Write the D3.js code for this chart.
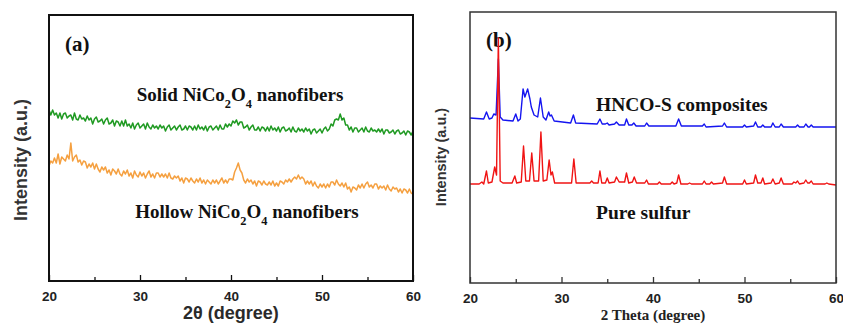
<!DOCTYPE html>
<html>
<head>
<meta charset="utf-8">
<script src="https://cdn.jsdelivr.net/npm/d3@7/dist/d3.min.js"></script>
<style>
  html, body { margin: 0; padding: 0; background: #fff; }
  svg { display: block; }
</style>
</head>
<body>
<div id="chart"></div>
<script>
// ==========================================
// DATA
// ==========================================

// panel (a): scans sampled every 0.2 degree from 20 to 60
const scanStart = 20;
const scanStep = 0.2;
const solidNiCo2O4 = [
  171, 166, 171, 166, 168, 163, 168, 162, 167, 168, 163,
  165, 166, 161, 168, 162, 161, 166, 162, 163, 160,
  165, 161, 163, 157, 162, 164, 159, 160, 162, 157,
  161, 163, 157, 158, 161, 155, 160, 159, 155, 160,
  155, 161, 155, 157, 153, 158, 152, 156, 158, 153,
  155, 157, 152, 158, 154, 152, 156, 153, 155, 152,
  156, 153, 155, 150, 154, 156, 151, 153, 155, 151,
  154, 156, 151, 152, 155, 151, 155, 154, 151, 155,
  151, 156, 152, 154, 151, 155, 150, 154, 155, 151,
  153, 155, 151, 156, 152, 152, 157, 154, 157, 155,
  160, 158, 161, 156, 159, 159, 153, 154, 156, 151,
  154, 156, 151, 151, 154, 150, 154, 153, 150, 154,
  150, 155, 151, 153, 150, 154, 149, 153, 154, 150,
  151, 153, 149, 154, 150, 149, 153, 150, 152, 149,
  153, 150, 152, 147, 151, 152, 148, 150, 152, 148,
  152, 154, 150, 152, 157, 155, 161, 162, 161, 167,
  161, 163, 156, 156, 151, 154, 149, 153, 153, 149,
  151, 153, 149, 154, 150, 149, 153, 150, 151, 149,
  152, 149, 152, 147, 151, 151, 148, 149, 151, 147,
  150, 151, 147, 148, 150, 146, 150, 149, 146, 150
];
const hollowNiCo2O4 = [
  115, 120, 118, 123, 118, 127, 117, 124, 122, 120, 126,
  122, 138, 120, 124, 126, 119, 121, 116, 120, 119,
  113, 117, 114, 118, 112, 117, 112, 109, 114, 111,
  114, 108, 111, 106, 112, 110, 107, 112, 107, 105,
  110, 107, 111, 105, 108, 103, 110, 106, 104, 109,
  105, 108, 103, 107, 110, 104, 107, 103, 108, 108,
  104, 107, 104, 107, 103, 108, 103, 102, 105, 103,
  105, 100, 103, 98, 103, 102, 99, 103, 100, 98,
  102, 99, 103, 98, 101, 97, 101, 99, 97, 101,
  98, 101, 97, 100, 103, 98, 101, 98, 102, 102,
  101, 109, 113, 118, 111, 108, 101, 98, 102, 99,
  101, 97, 100, 95, 100, 99, 96, 100, 97, 96,
  99, 96, 100, 95, 98, 95, 100, 99, 97, 101,
  99, 102, 99, 102, 104, 102, 106, 102, 104, 102,
  97, 100, 97, 100, 95, 99, 95, 93, 97, 94,
  97, 93, 97, 94, 99, 99, 96, 101, 97, 95,
  98, 94, 98, 92, 94, 89, 94, 93, 91, 96,
  93, 97, 93, 97, 99, 94, 96, 93, 97, 97,
  92, 95, 93, 95, 91, 96, 92, 90, 94, 92,
  93, 89, 92, 88, 92, 91, 88, 92, 88, 87
];

// panel (b): [2theta, intensity] points
const hncoS = [
  [20, 165], [21.5, 164], [21.8, 171], [22.1, 164], [22.4, 165], [22.6, 169], [22.85, 168], [23.1, 224],
  [23.3, 166], [23.6, 163], [24.7, 162], [25.0, 169], [25.25, 162], [25.5, 164], [25.8, 194], [26.0, 186],
  [26.3, 194], [26.55, 184], [26.7, 176], [27.0, 168], [27.4, 166], [27.7, 185], [28.0, 166], [28.3, 163],
  [28.6, 171], [28.75, 167], [28.9, 168], [29.2, 162], [31.0, 160], [31.3, 168], [31.55, 160], [33.9, 159],
  [34.2, 164], [34.45, 159], [34.8, 159], [35.0, 160], [35.2, 158], [35.8, 159], [36.0, 161], [36.3, 158],
  [36.9, 158], [37.1, 164], [37.35, 158], [37.7, 158], [37.9, 160], [38.15, 157], [39.1, 157], [39.3, 160],
  [39.55, 157], [42.5, 157], [42.8, 164], [43.1, 157], [45.4, 157], [45.6, 159], [45.8, 156], [47.6, 157],
  [47.8, 160], [48.05, 156], [49.8, 156], [50.0, 158], [50.2, 156], [51.0, 157], [51.2, 161], [51.45, 156],
  [51.8, 156], [52.0, 158], [52.2, 156], [52.9, 156], [53.1, 160], [53.35, 156], [53.8, 156], [54.0, 159],
  [54.25, 156], [55.6, 156], [55.8, 158], [56.0, 156], [56.5, 156], [56.7, 159], [56.95, 156], [57.1, 156],
  [57.3, 158], [57.5, 156], [60, 156]
];
const pureSulfur = [
  [20, 99], [21.0, 99], [21.3, 101], [21.5, 99], [21.8, 112], [22.0, 100], [22.4, 101], [22.7, 116],
  [22.9, 108], [23.1, 245], [23.3, 102], [23.6, 100], [24.6, 100], [24.9, 107], [25.1, 100], [25.6, 101],
  [25.85, 137], [26.1, 102], [26.5, 102], [26.75, 130], [27.0, 102], [27.5, 102], [27.75, 151], [28.0, 102],
  [28.4, 103], [28.65, 123], [28.85, 108], [29.0, 111], [29.25, 100], [31.1, 100], [31.35, 124], [31.6, 100],
  [33.1, 100], [33.3, 102], [33.5, 100], [34.0, 100], [34.2, 112], [34.4, 100], [34.8, 100], [35.0, 105],
  [35.2, 100], [35.8, 101], [36.0, 106], [36.3, 101], [36.9, 101], [37.1, 110], [37.35, 100], [37.75, 101],
  [37.95, 106], [38.2, 100], [39.1, 100], [39.3, 103], [39.5, 99], [40.5, 99], [40.7, 101], [40.9, 99],
  [41.9, 99], [42.1, 101], [42.3, 99], [42.6, 100], [42.8, 108], [43.05, 99], [43.8, 99], [44.0, 100],
  [44.2, 99], [45.4, 99], [45.6, 102], [45.8, 99], [46.2, 99], [46.4, 101], [46.6, 99], [47.6, 100],
  [47.8, 106], [48.05, 99], [49.8, 99], [50.0, 103], [50.2, 99], [51.0, 100], [51.2, 108], [51.45, 100],
  [51.8, 100], [52.0, 105], [52.2, 99], [52.9, 100], [53.1, 104], [53.35, 99], [53.8, 100], [54.0, 105],
  [54.25, 99], [55.2, 99], [55.4, 101], [55.6, 100], [55.8, 102], [56.0, 99], [56.5, 100], [56.7, 103],
  [56.9, 100], [57.1, 100], [57.3, 102], [57.5, 99], [58.8, 99], [59.0, 100], [59.2, 99], [60, 98]
];

const xDomain = [20, 60];
const majorTicks = [20, 30, 40, 50, 60];
const minorTicks = [25, 35, 45, 55];

// ==========================================
// LAYOUT
// ==========================================

const W = 843, H = 332;

const PANEL_A = {
  left: 49, right: 413, top: 15, bottom: 281, yMax: 266,
  frameColor: '#111', frameWidth: 2,
  tickFont: 'bold 13.5px Arial, "Liberation Sans", sans-serif',
  tickColor: '#222'
};
const PANEL_B = {
  left: 470, right: 836, top: 12, bottom: 283, yMax: 271,
  frameColor: '#333', frameWidth: 1.5,
  tickFont: 'bold 13.5px Arial, "Liberation Sans", sans-serif',
  tickColor: '#222'
};

const SERIF = '"Liberation Serif", "Times New Roman", serif';
const SANS = 'Arial, "Liberation Sans", sans-serif';

const svg = d3.select('#chart').append('svg')
  .attr('width', W)
  .attr('height', H);

function scalesFor(p) {
  const x = d3.scaleLinear().domain(xDomain).range([p.left, p.right]);
  const y = d3.scaleLinear().domain([0, p.yMax]).range([p.bottom, p.top]);
  return { x, y };
}

function drawFrame(p, x) {
  const g = svg.append('g');

  const major = d3.axisBottom(x).tickValues(majorTicks).tickSize(-6).tickPadding(10)
    .tickFormat(d3.format('d'));
  const minor = d3.axisBottom(x).tickValues(minorTicks).tickSize(-4).tickFormat('');

  const gMajor = g.append('g').attr('transform', `translate(0,${p.bottom})`).call(major);
  const gMinor = g.append('g').attr('transform', `translate(0,${p.bottom})`).call(minor);
  [gMajor, gMinor].forEach(a => {
    a.select('.domain').remove();
    a.selectAll('line').attr('stroke', p.frameColor).attr('stroke-width', 1.3);
  });
  gMajor.selectAll('text')
    .style('font', p.tickFont)
    .attr('fill', p.tickColor);

  g.append('rect')
    .attr('x', p.left)
    .attr('y', p.top)
    .attr('width', p.right - p.left)
    .attr('height', p.bottom - p.top)
    .attr('fill', 'none')
    .attr('stroke', p.frameColor)
    .attr('stroke-width', p.frameWidth);
}

function drawTrace(data, x, y, color, width) {
  const line = d3.line()
    .x(d => x(d[0]))
    .y(d => y(d[1]));
  svg.append('path')
    .datum(data)
    .attr('fill', 'none')
    .attr('stroke', color)
    .attr('stroke-width', width)
    .attr('stroke-linejoin', 'round')
    .attr('d', line);
}

function label(parent, x, y, parts, size, anchor) {
  const t = parent.append('text')
    .attr('x', x)
    .attr('y', y)
    .attr('text-anchor', anchor || 'start')
    .style('font-family', SERIF)
    .style('font-weight', 'bold')
    .style('font-size', size + 'px')
    .attr('fill', '#111');
  parts.forEach(part => {
    const s = t.append('tspan').text(part.text);
    if (part.sub) {
      s.attr('baseline-shift', 'sub').style('font-size', (size * 0.65) + 'px');
    }
  });
  return t;
}

// ==========================================
// PANEL (a)
// ==========================================

const sa = scalesFor(PANEL_A);
const solidPts = solidNiCo2O4.map((v, i) => [scanStart + i * scanStep, v]);
const hollowPts = hollowNiCo2O4.map((v, i) => [scanStart + i * scanStep, v]);

drawTrace(hollowPts, sa.x, sa.y, '#f5a040', 1.5);
drawTrace(solidPts, sa.x, sa.y, '#1f9a22', 1.5);
drawFrame(PANEL_A, sa.x);

label(svg, 65, 51, [{ text: '(a)' }], 21);
label(svg, 240, 101, [
  { text: 'Solid NiCo' }, { text: '2', sub: true }, { text: 'O' }, { text: '4', sub: true }, { text: ' nanofibers' }
], 19, 'middle');
label(svg, 247, 218, [
  { text: 'Hollow NiCo' }, { text: '2', sub: true }, { text: 'O' }, { text: '4', sub: true }, { text: ' nanofibers' }
], 19, 'middle');

svg.append('text')
  .attr('x', (PANEL_A.left + PANEL_A.right) / 2)
  .attr('y', 319)
  .attr('text-anchor', 'middle')
  .style('font-family', SANS)
  .style('font-weight', 'bold')
  .style('font-size', '18px')
  .attr('fill', '#2a2a2a')
  .text('2θ (degree)');

svg.append('text')
  .attr('transform', `translate(27,160) rotate(-90)`)
  .attr('text-anchor', 'middle')
  .style('font-family', SANS)
  .style('font-weight', 'bold')
  .style('font-size', '18px')
  .attr('fill', '#333')
  .text('Intensity (a.u.)');

// ==========================================
// PANEL (b)
// ==========================================

const sb = scalesFor(PANEL_B);

label(svg, 486, 47, [{ text: '(b)' }], 21);
drawTrace(hncoS, sb.x, sb.y, '#1414f0', 1.4);
drawTrace(pureSulfur, sb.x, sb.y, '#f01414', 1.4);
drawFrame(PANEL_B, sb.x);

label(svg, 596, 111, [{ text: 'HNCO-S composites' }], 19.5);
label(svg, 596, 219, [{ text: 'Pure sulfur' }], 19.5);

svg.append('text')
  .attr('x', (PANEL_B.left + PANEL_B.right) / 2)
  .attr('y', 320)
  .attr('text-anchor', 'middle')
  .style('font-family', SERIF)
  .style('font-weight', 'bold')
  .style('font-size', '15px')
  .attr('fill', '#222')
  .text('2 Theta (degree)');

svg.append('text')
  .attr('transform', `translate(446,157) rotate(-90)`)
  .attr('text-anchor', 'middle')
  .style('font-family', SANS)
  .style('font-weight', 'bold')
  .style('font-size', '14.5px')
  .attr('fill', '#333')
  .text('Intensity (a.u.)');
</script>
</body>
</html>
